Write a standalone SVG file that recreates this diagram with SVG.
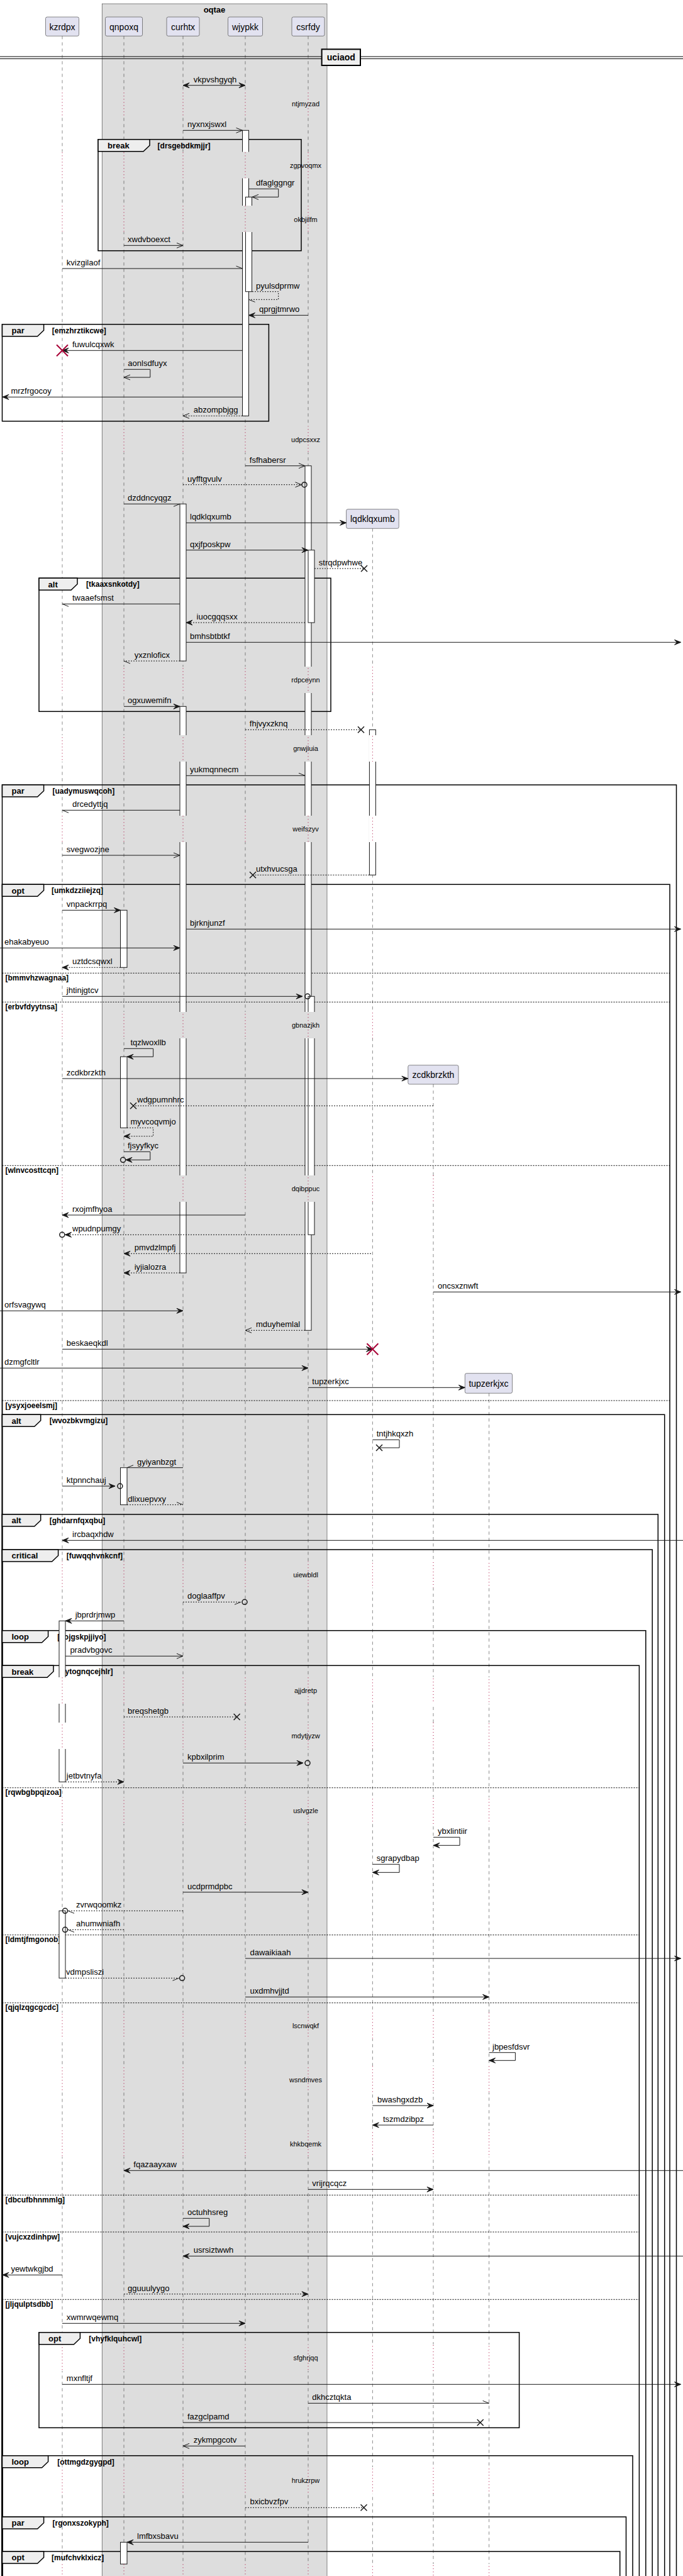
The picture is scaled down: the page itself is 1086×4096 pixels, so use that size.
<svg xmlns="http://www.w3.org/2000/svg" width="1086" height="4096" viewBox="0 0 1086 4096">
<style>
text{font-family:"Liberation Sans",Arial,sans-serif;fill:#000}
.pt{font-size:14px;text-anchor:middle}
.m{font-size:13px}
.dt{font-size:11px;text-anchor:middle}
.tt{font-size:13px;font-weight:bold}
.cd{font-size:12px;font-weight:bold}
.lf{stroke:#181818;stroke-width:0.5;stroke-dasharray:5,5}
.dl{stroke:#A80036;stroke-width:1;stroke-dasharray:1,4}
.s{stroke:#181818;stroke-width:1;fill:none}
.d{stroke:#181818;stroke-width:1;fill:none;stroke-dasharray:2,2}
.fr{fill:none;stroke:#000;stroke-width:1.5}
.tab{fill:#EEEEEE;stroke:#000;stroke-width:1.5}
.sep{stroke:#000;stroke-width:1;stroke-dasharray:2,2}
.act{fill:#fff;stroke:#181818;stroke-width:1}
.pb{fill:#E2E2F0;stroke:#181818;stroke-width:0.5}
.cg{fill:#DDDDDD}
.cw{fill:#fff}
.x{stroke:#181818;stroke-width:1.5;fill:none}
.rx{stroke:#A80036;stroke-width:2;fill:none}
.c{fill:none;stroke:#181818;stroke-width:1.5}
</style>
<defs>
<marker id="f" markerUnits="userSpaceOnUse" viewBox="-12 -6 14 12" refX="0" refY="0" markerWidth="14" markerHeight="12" orient="auto" overflow="visible"><path d="M0,0L-10,-4L-6,0L-10,4Z" fill="#181818" stroke="#181818" stroke-width="1"/></marker>
<marker id="fb" markerUnits="userSpaceOnUse" viewBox="-12 -6 14 12" refX="0" refY="0" markerWidth="14" markerHeight="12" orient="auto-start-reverse" overflow="visible"><path d="M0,0L-10,-4L-6,0L-10,4Z" fill="#181818" stroke="#181818" stroke-width="1"/></marker>
<marker id="o" markerUnits="userSpaceOnUse" viewBox="-12 -6 14 12" refX="0" refY="0" markerWidth="14" markerHeight="12" orient="auto" overflow="visible"><path d="M-10,-4L0,0L-10,4" fill="none" stroke="#181818" stroke-width="1"/></marker>
<marker id="hu" markerUnits="userSpaceOnUse" viewBox="-12 -6 14 12" refX="0" refY="0" markerWidth="14" markerHeight="12" orient="auto" overflow="visible"><path d="M-10,-4L0,0" fill="none" stroke="#181818" stroke-width="1"/></marker>
<marker id="hl" markerUnits="userSpaceOnUse" viewBox="-12 -6 14 12" refX="0" refY="0" markerWidth="14" markerHeight="12" orient="auto" overflow="visible"><path d="M-10,4L0,0" fill="none" stroke="#181818" stroke-width="1"/></marker>
<g id="bands">
<rect x="0" y="143.5" width="1086" height="42"/>
<rect x="0" y="241.5" width="1086" height="42"/>
<rect x="0" y="327" width="1086" height="42"/>
<rect x="0" y="677.5" width="1086" height="42"/>
<rect x="0" y="1060" width="1086" height="42"/>
<rect x="0" y="1169" width="1086" height="42"/>
<rect x="0" y="1297" width="1086" height="42"/>
<rect x="0" y="1609" width="1086" height="42"/>
<rect x="0" y="1869" width="1086" height="42"/>
<rect x="0" y="2482.5" width="1086" height="42"/>
<rect x="0" y="2667" width="1086" height="42"/>
<rect x="0" y="2739" width="1086" height="42"/>
<rect x="0" y="2858" width="1086" height="42"/>
<rect x="0" y="3200" width="1086" height="42"/>
<rect x="0" y="3285" width="1086" height="42"/>
<rect x="0" y="3387.5" width="1086" height="42"/>
<rect x="0" y="3728" width="1086" height="42"/>
<rect x="0" y="3923" width="1086" height="42"/>
<rect x="0" y="4077" width="1086" height="42"/>
</g>
<mask id="nd" maskUnits="userSpaceOnUse" x="0" y="0" width="1086" height="4096"><rect x="0" y="0" width="1086" height="4096" fill="#fff"/><use href="#bands" fill="#000"/></mask>
<mask id="od" maskUnits="userSpaceOnUse" x="0" y="0" width="1086" height="4096"><use href="#bands" fill="#fff"/></mask>
</defs>
<rect x="0" y="0" width="1086" height="4096" fill="#fff"/>

<g id="box-oqtae">
<rect x="162.2" y="6" width="357.8" height="4100" fill="#DDDDDD" stroke="#181818" stroke-width="0.5"/>
<text x="341" y="19.5" class="tt" text-anchor="middle">oqtae</text>
</g>

<g id="lifelines">
<g mask="url(#nd)">
<line class="lf" x1="99" y1="57.3" x2="99" y2="4096"/>
<line class="lf" x1="197" y1="57.3" x2="197" y2="4096"/>
<line class="lf" x1="291" y1="57.3" x2="291" y2="4096"/>
<line class="lf" x1="390" y1="57.3" x2="390" y2="4096"/>
<line class="lf" x1="490" y1="57.3" x2="490" y2="4096"/>
<line class="lf" x1="592.4" y1="840.3" x2="592.4" y2="4096"/>
<line class="lf" x1="689" y1="1724" x2="689" y2="4096"/>
<line class="lf" x1="777.6" y1="2215.3" x2="777.6" y2="4096"/>
</g>
</g>

<g id="participants">
<g id="p-kzrdpx"><rect class="pb" x="72.5" y="27" width="53" height="30.3" rx="2.5"/><text class="pt" x="99" y="47.5">kzrdpx</text></g>
<g id="p-qnpoxq"><rect class="pb" x="167.5" y="27" width="59" height="30.3" rx="2.5"/><text class="pt" x="197" y="47.5">qnpoxq</text></g>
<g id="p-curhtx"><rect class="pb" x="265" y="27" width="52" height="30.3" rx="2.5"/><text class="pt" x="291" y="47.5">curhtx</text></g>
<g id="p-wjypkk"><rect class="pb" x="362.5" y="27" width="55" height="30.3" rx="2.5"/><text class="pt" x="390" y="47.5">wjypkk</text></g>
<g id="p-csrfdy"><rect class="pb" x="464" y="27" width="52" height="30.3" rx="2.5"/><text class="pt" x="490" y="47.5">csrfdy</text></g>
<g id="p-lqdklqxumb"><rect class="pb" x="550.6" y="809.7" width="83.6" height="30.6" rx="2.5"/><text class="pt" x="592.4" y="830">lqdklqxumb</text></g>
<g id="p-zcdkbrzkth"><rect class="pb" x="648.8" y="1693.7" width="80.2" height="30.3" rx="2.5"/><text class="pt" x="688.9" y="1714">zcdkbrzkth</text></g>
<g id="p-tupzerkjxc"><rect class="pb" x="739.3" y="2183.7" width="75.2" height="31.6" rx="2.5"/><text class="pt" x="776.9" y="2204.5">tupzerkjxc</text></g>
</g>

<g id="divider-uciaod">
<line x1="0" y1="90" x2="1086" y2="90" stroke="#000" stroke-width="1"/>
<line x1="0" y1="93.4" x2="1086" y2="93.4" stroke="#000" stroke-width="1"/>
<rect x="511.6" y="78.3" width="61.4" height="25.7" fill="#EEEEEE" stroke="#000" stroke-width="2"/>
<text x="542.3" y="96" font-size="14" font-weight="bold" text-anchor="middle">uciaod</text>
</g>

<g id="frames">
<g id="fr-break1"><rect class="fr" x="156" y="221.7" width="323" height="177"/><polygon class="tab" points="156,221.7 238,221.7 238,231.2 228,240.7 156,240.7"/><text class="tt" x="171" y="236">break</text><text class="cd" x="250.6" y="235.5">[drsgebdkmjjr]</text></g>
<g id="fr-par1"><rect class="fr" x="3.5" y="515.7" width="423.9" height="154"/><polygon class="tab" points="3.5,515.7 69.6,515.7 69.6,525.2 59.6,534.7 3.5,534.7"/><text class="tt" x="18.5" y="530">par</text><text class="cd" x="82.8" y="529.5">[emzhrztikcwe]</text></g>
<g id="fr-alt1"><rect class="fr" x="62" y="919.3" width="464" height="212"/><polygon class="tab" points="62,919.3 123,919.3 123,928.8 113,938.3 62,938.3"/><text class="tt" x="76.6" y="933.6">alt</text><text class="cd" x="137.1" y="933.1">[tkaaxsnkotdy]</text></g>
<g id="fr-par2"><rect class="fr" x="3.5" y="1248" width="1072" height="2900"/><polygon class="tab" points="3.5,1248 69.6,1248 69.6,1257.5 59.6,1267 3.5,1267"/><text class="tt" x="18.5" y="1262.3">par</text><text class="cd" x="83.5" y="1261.8">[uadymuswqcoh]</text></g>
<g id="fr-opt1"><rect class="fr" x="3.5" y="1406.3" width="1061.5" height="2750"/><polygon class="tab" points="3.5,1406.3 69.6,1406.3 69.6,1415.8 59.6,1425.3 3.5,1425.3"/><text class="tt" x="18.5" y="1420.6">opt</text><text class="cd" x="82" y="1420.1">[umkdzziiejzq]</text>
<line class="sep" x1="3.5" y1="1547.3" x2="1065" y2="1547.3"/><text class="cd" x="8.4" y="1559">[bmmvhzwagnaa]</text>
<line class="sep" x1="3.5" y1="1593.3" x2="1065" y2="1593.3"/><text class="cd" x="8.4" y="1605">[erbvfdyytnsa]</text>
<line class="sep" x1="3.5" y1="1853.3" x2="1065" y2="1853.3"/><text class="cd" x="8.4" y="1865">[wlnvcosttcqn]</text>
<line class="sep" x1="3.5" y1="2227" x2="1065" y2="2227"/><text class="cd" x="8.4" y="2238.7">[ysyxjoeelsmj]</text></g>
<g id="fr-alt2"><rect class="fr" x="3.5" y="2249.3" width="1053.2" height="1900"/><polygon class="tab" points="3.5,2249.3 64.7,2249.3 64.7,2258.8 54.7,2268.3 3.5,2268.3"/><text class="tt" x="18.5" y="2263.6">alt</text><text class="cd" x="78.7" y="2263.1">[wvozbkvmgizu]</text></g>
<g id="fr-alt3"><rect class="fr" x="3.5" y="2408" width="1042.8" height="1750"/><polygon class="tab" points="3.5,2408 64.7,2408 64.7,2417.5 54.7,2427 3.5,2427"/><text class="tt" x="18.5" y="2422.3">alt</text><text class="cd" x="78.7" y="2421.8">[ghdarnfqxqbu]</text></g>
<g id="fr-critical"><rect class="fr" x="3.5" y="2464" width="1033.7" height="1700"/><polygon class="tab" points="3.5,2464 92.6,2464 92.6,2473.5 82.6,2483 3.5,2483"/><text class="tt" x="18.5" y="2478.3">critical</text><text class="cd" x="105.8" y="2477.8">[fuwqqhvnkcnf]</text></g>
<g id="fr-loop1"><rect class="fr" x="3.5" y="2592.7" width="1023.3" height="1600"/><polygon class="tab" points="3.5,2592.7 76.6,2592.7 76.6,2602.2 66.6,2611.7 3.5,2611.7"/><text class="tt" x="18.5" y="2607">loop</text><text class="cd" x="91.2" y="2606.5">[yojgskpjjiyo]</text></g>
<g id="fr-break2"><rect class="fr" x="3.5" y="2648.3" width="1012.9" height="1500"/><polygon class="tab" points="3.5,2648.3 85,2648.3 85,2657.8 75,2667.3 3.5,2667.3"/><text class="tt" x="18.5" y="2662.6">break</text><text class="cd" x="99.5" y="2662.1">[ytognqcejhlr]</text>
<line class="sep" x1="3.5" y1="2842.7" x2="1016.4" y2="2842.7"/><text class="cd" x="8.4" y="2854.4">[rqwbgbpqizoa]</text>
<line class="sep" x1="3.5" y1="3076.7" x2="1016.4" y2="3076.7"/><text class="cd" x="8.4" y="3088.4">[ldmtjfmgonob]</text>
<line class="sep" x1="3.5" y1="3184.7" x2="1016.4" y2="3184.7"/><text class="cd" x="8.4" y="3196.4">[qjqlzqgcgcdc]</text>
<line class="sep" x1="3.5" y1="3490.3" x2="1016.4" y2="3490.3"/><text class="cd" x="8.4" y="3502">[dbcufbhnmmlg]</text>
<line class="sep" x1="3.5" y1="3549" x2="1016.4" y2="3549"/><text class="cd" x="8.4" y="3560.7">[vujcxzdinhpw]</text>
<line class="sep" x1="3.5" y1="3656.3" x2="1016.4" y2="3656.3"/><text class="cd" x="8.4" y="3668">[jljqulptsdbb]</text></g>
<g id="fr-opt2"><rect class="fr" x="62" y="3708.7" width="763.6" height="151.6"/><polygon class="tab" points="62,3708.7 127.4,3708.7 127.4,3718.2 117.4,3727.7 62,3727.7"/><text class="tt" x="77" y="3723">opt</text><text class="cd" x="141.3" y="3722.5">[vhyfklquhcwl]</text></g>
<g id="fr-loop2"><rect class="fr" x="3.5" y="3904.7" width="1002.5" height="300"/><polygon class="tab" points="3.5,3904.7 76.6,3904.7 76.6,3914.2 66.6,3923.7 3.5,3923.7"/><text class="tt" x="18.5" y="3919">loop</text><text class="cd" x="91.2" y="3918.5">[ottmgdzgygpd]</text></g>
<g id="fr-par3"><rect class="fr" x="3.5" y="4002" width="992" height="200"/><polygon class="tab" points="3.5,4002 69.6,4002 69.6,4011.5 59.6,4021 3.5,4021"/><text class="tt" x="18.5" y="4016.3">par</text><text class="cd" x="83.5" y="4015.8">[rgonxszokyph]</text></g>
<g id="fr-opt3"><rect class="fr" x="3.5" y="4057" width="982.2" height="100"/><polygon class="tab" points="3.5,4057 69.6,4057 69.6,4066.5 59.6,4076 3.5,4076"/><text class="tt" x="18.5" y="4071.3">opt</text><text class="cd" x="82" y="4070.8">[mufchvklxicz]</text></g>
</g>

<g id="activations">
<rect class="act" x="385.5" y="207.3" width="10" height="454"/>
<rect class="act" x="390.5" y="313.3" width="10" height="150.4"/>
<rect class="act" x="485" y="740.7" width="10" height="1374.6"/>
<rect class="act" x="490" y="874.7" width="10" height="115.3"/>
<rect class="act" x="490" y="1584.3" width="10" height="379"/>
<rect class="act" x="286" y="801.3" width="10" height="249.7"/>
<rect class="act" x="286" y="1123.3" width="10" height="900.7"/>
<rect class="act" x="587.4" y="1160.3" width="10" height="231"/>
<rect class="act" x="191.5" y="1447.3" width="10.5" height="91"/>
<rect class="act" x="191.5" y="1680.3" width="10.5" height="113"/>
<rect class="act" x="191.5" y="2333.7" width="10.5" height="59"/>
<rect class="act" x="191.5" y="4042.3" width="10.5" height="34.7"/>
<rect class="act" x="94" y="2577.3" width="10" height="256"/>
<rect class="act" x="94" y="3038.3" width="10" height="107"/>
</g>
<g id="activation-breaks">
<rect class="cg" x="384.5" y="241.5" width="17.5" height="42"/>
<rect class="cg" x="384.5" y="327" width="17.5" height="42"/>
<rect class="cg" x="484" y="1060" width="17" height="42"/>
<rect class="cg" x="484" y="1169" width="17" height="42"/>
<rect class="cg" x="484" y="1297" width="17" height="42"/>
<rect class="cg" x="484" y="1609" width="17" height="42"/>
<rect class="cg" x="484" y="1869" width="17" height="42"/>
<rect class="cg" x="285" y="1169" width="12" height="42"/>
<rect class="cg" x="285" y="1297" width="12" height="42"/>
<rect class="cg" x="285" y="1609" width="12" height="42"/>
<rect class="cg" x="285" y="1869" width="12" height="42"/>
<rect class="cw" x="586.4" y="1169" width="12" height="42"/>
<rect class="cw" x="586.4" y="1297" width="12" height="42"/>
<rect class="cw" x="93" y="2667" width="12" height="42"/>
<rect class="cw" x="93" y="2739" width="12" height="42"/>
</g>

<g id="delays">
<g mask="url(#od)">
<line class="dl" x1="99" y1="57.3" x2="99" y2="4096"/>
<line class="dl" x1="197" y1="57.3" x2="197" y2="4096"/>
<line class="dl" x1="291" y1="57.3" x2="291" y2="4096"/>
<line class="dl" x1="390" y1="57.3" x2="390" y2="4096"/>
<line class="dl" x1="490" y1="57.3" x2="490" y2="4096"/>
<line class="dl" x1="592.4" y1="840.3" x2="592.4" y2="4096"/>
<line class="dl" x1="689" y1="1724" x2="689" y2="4096"/>
<line class="dl" x1="777.6" y1="2215.3" x2="777.6" y2="4096"/>
</g>
<text class="dt" x="486" y="169">ntjmyzad</text>
<text class="dt" x="486" y="267">zgpvoqmx</text>
<text class="dt" x="486" y="352.7">okbjilfm</text>
<text class="dt" x="486" y="703">udpcsxxz</text>
<text class="dt" x="486" y="1085.3">rdpceynn</text>
<text class="dt" x="486" y="1194.3">gnwjiuia</text>
<text class="dt" x="486" y="1322.3">weifszyv</text>
<text class="dt" x="486" y="1634.3">gbnazjkh</text>
<text class="dt" x="486" y="1894.3">dqibppuc</text>
<text class="dt" x="486" y="2508">uiewbldl</text>
<text class="dt" x="486" y="2692.3">ajjdretp</text>
<text class="dt" x="486" y="2764.3">mdytjyzw</text>
<text class="dt" x="486" y="2883.3">uslvgzle</text>
<text class="dt" x="486" y="3225.3">lscnwqkf</text>
<text class="dt" x="486" y="3310.7">wsndmves</text>
<text class="dt" x="486" y="3413">khkbqemk</text>
<text class="dt" x="486" y="3753.3">sfghrjqq</text>
<text class="dt" x="486" y="3948.3">hrukzrpw</text>
</g>

<g id="connectors">
<line class="s" x1="291" y1="135.7" x2="390" y2="135.7" marker-start="url(#fb)" marker-end="url(#fb)"/><text class="m" x="307.7" y="130.7">vkpvshgyqh</text>
<line class="s" x1="291" y1="207.3" x2="385.5" y2="207.3" marker-end="url(#o)"/><text class="m" x="298" y="202.3">nyxnxjswxl</text>
<path class="s" d="M395.5,300.3H442.7V313.3H401" marker-end="url(#o)"/><text class="m" x="407" y="295.3">dfaglggngr</text>
<line class="s" x1="197" y1="390.3" x2="291" y2="390.3" marker-end="url(#o)"/><text class="m" x="203" y="385.3">xwdvboexct</text>
<line class="s" x1="99" y1="427" x2="385.5" y2="427" marker-end="url(#hu)"/><text class="m" x="105.8" y="422">kvizgilaof</text>
<path class="d" d="M401,463.7H442.7V476.3H395.5" marker-end="url(#hu)"/><text class="m" x="407" y="458.7">pyulsdprmw</text>
<line class="s" x1="490" y1="501.3" x2="395.5" y2="501.3" marker-end="url(#f)"/><text class="m" x="412" y="496.3">qprgjtmrwo</text>
<line class="s" x1="385.5" y1="557.3" x2="99" y2="557.3" marker-end="url(#f)"/><path class="rx" d="M90,548.3L108,566.3M108,548.3L90,566.3"/><text class="m" x="115" y="552.3">fuwulcqxwk</text>
<path class="s" d="M197,587.3H238.8V600H197" marker-end="url(#o)"/><text class="m" x="203.3" y="582.3">aonlsdfuyx</text>
<line class="s" x1="385.5" y1="631.3" x2="4" y2="631.3" marker-end="url(#f)"/><text class="m" x="17.4" y="626.3">mrzfrgocoy</text>
<line class="d" x1="385.5" y1="661.3" x2="291" y2="661.3" marker-end="url(#o)"/><text class="m" x="307.7" y="656.3">abzompbjgg</text>
<line class="s" x1="390" y1="740.7" x2="485" y2="740.7" marker-end="url(#o)"/><text class="m" x="396.8" y="735.7">fsfhabersr</text>
<line class="d" x1="291" y1="770.7" x2="479.5" y2="770.7" marker-end="url(#o)"/><circle class="c" cx="484" cy="770.7" r="4"/><text class="m" x="298" y="765.7">uyfftgvulv</text>
<line class="s" x1="197" y1="801.3" x2="286" y2="801.3" marker-end="url(#hl)"/><text class="m" x="203" y="796.3">dzddncyqgz</text>
<line class="s" x1="296" y1="831.3" x2="550.6" y2="831.3" marker-end="url(#f)"/><text class="m" x="302" y="826.3">lqdklqxumb</text>
<line class="s" x1="296" y1="874.7" x2="490" y2="874.7" marker-end="url(#f)"/><text class="m" x="302" y="869.7">qxjfposkpw</text>
<line class="d" x1="500" y1="904" x2="579" y2="904"/><path class="x" d="M574,899L584,909M584,899L574,909"/><text class="m" x="506.8" y="899">strqdpwhwe</text>
<line class="s" x1="286" y1="960.3" x2="99" y2="960.3" marker-end="url(#hu)"/><text class="m" x="115" y="955.3">twaaefsmst</text>
<line class="d" x1="485" y1="990" x2="296" y2="990" marker-end="url(#f)"/><text class="m" x="312.6" y="985">iuocgqqsxx</text>
<line class="s" x1="296" y1="1021.3" x2="1082.5" y2="1021.3" marker-end="url(#f)"/><text class="m" x="302" y="1016.3">bmhsbtbtkf</text>
<line class="d" x1="286" y1="1051" x2="197" y2="1051" marker-end="url(#hu)"/><text class="m" x="213.7" y="1046">yxznloficx</text>
<line class="s" x1="197" y1="1123.3" x2="286" y2="1123.3" marker-end="url(#f)"/><text class="m" x="203" y="1118.3">ogxuwemifn</text>
<line class="d" x1="390" y1="1160.3" x2="574" y2="1160.3"/><path class="x" d="M569,1155.3L579,1165.3M579,1155.3L569,1165.3"/><text class="m" x="396.8" y="1155.3">fhjvyxzknq</text>
<line class="s" x1="296" y1="1233.3" x2="485" y2="1233.3" marker-end="url(#hu)"/><text class="m" x="302" y="1228.3">yukmqnnecm</text>
<line class="s" x1="286" y1="1288.3" x2="99" y2="1288.3" marker-end="url(#hu)"/><text class="m" x="115" y="1283.3">drcedyttjq</text>
<line class="s" x1="99" y1="1360" x2="286" y2="1360" marker-end="url(#o)"/><text class="m" x="105.8" y="1355">svegwozjne</text>
<line class="d" x1="587.4" y1="1391.3" x2="402" y2="1391.3"/><path class="x" d="M397,1386.3L407,1396.3M407,1386.3L397,1396.3"/><text class="m" x="407" y="1386.3">utxhvucsga</text>
<line class="s" x1="99" y1="1447.3" x2="191.5" y2="1447.3" marker-end="url(#f)"/><text class="m" x="105.8" y="1442.3">vnpackrrpq</text>
<line class="s" x1="296" y1="1477.3" x2="1082.5" y2="1477.3" marker-end="url(#f)"/><text class="m" x="302" y="1472.3">bjrknjunzf</text>
<line class="s" x1="0" y1="1507.3" x2="286" y2="1507.3" marker-end="url(#f)"/><text class="m" x="7" y="1502.3">ehakabyeuo</text>
<line class="d" x1="191.5" y1="1538.3" x2="99" y2="1538.3" marker-end="url(#f)"/><text class="m" x="115" y="1533.3">uztdcsqwxl</text>
<line class="s" x1="99" y1="1584.3" x2="481" y2="1584.3" marker-end="url(#f)"/><circle class="c" cx="489" cy="1584.3" r="4"/><text class="m" x="105.8" y="1579.3">jhtinjgtcv</text>
<path class="s" d="M197,1667.3H243.6V1680.3H202" marker-end="url(#f)"/><text class="m" x="207.4" y="1662.3">tqzlwoxllb</text>
<line class="s" x1="99" y1="1715" x2="648.8" y2="1715" marker-end="url(#f)"/><text class="m" x="105.8" y="1710">zcdkbrzkth</text>
<line class="d" x1="689" y1="1758.3" x2="212" y2="1758.3"/><path class="x" d="M207,1753.3L217,1763.3M217,1753.3L207,1763.3"/><text class="m" x="218" y="1753.3">wdgpumnhrc</text>
<path class="d" d="M202,1793.3H243.6V1806.7H197" marker-end="url(#f)"/><text class="m" x="207.4" y="1788.3">myvcoqvmjo</text>
<path class="s" d="M197,1831.3H238.8V1844.3H200" marker-end="url(#f)"/><circle class="c" cx="195.6" cy="1844.3" r="4"/><text class="m" x="203" y="1826.3">fjsyyfkyc</text>
<line class="s" x1="390" y1="1932" x2="99" y2="1932" marker-end="url(#f)"/><text class="m" x="115" y="1927">rxojmfhyoa</text>
<line class="d" x1="485" y1="1963.3" x2="103.5" y2="1963.3" marker-end="url(#f)"/><circle class="c" cx="98.8" cy="1963.3" r="4"/><text class="m" x="115" y="1958.3">wpudnpumgy</text>
<line class="d" x1="590" y1="1993.3" x2="197" y2="1993.3" marker-end="url(#f)"/><text class="m" x="213.7" y="1988.3">pmvdzlmpfj</text>
<line class="d" x1="286" y1="2024" x2="197" y2="2024" marker-end="url(#f)"/><text class="m" x="213.7" y="2019">iyjialozra</text>
<line class="s" x1="689" y1="2054.3" x2="1082.5" y2="2054.3" marker-end="url(#f)"/><text class="m" x="696" y="2049.3">oncsxznwft</text>
<line class="s" x1="0" y1="2084.3" x2="291" y2="2084.3" marker-end="url(#f)"/><text class="m" x="7" y="2079.3">orfsvagywq</text>
<line class="d" x1="485" y1="2115.3" x2="390" y2="2115.3" marker-end="url(#o)"/><text class="m" x="407" y="2110.3">mduyhemlal</text>
<line class="s" x1="99" y1="2145.3" x2="592.4" y2="2145.3" marker-end="url(#f)"/><path class="rx" d="M583.4,2136.3L601.4,2154.3M601.4,2136.3L583.4,2154.3"/><text class="m" x="105.8" y="2140.3">beskaeqkdl</text>
<line class="s" x1="0" y1="2175.3" x2="490" y2="2175.3" marker-end="url(#f)"/><text class="m" x="7" y="2170.3">dzmgfcltlr</text>
<line class="s" x1="490" y1="2206.3" x2="739.3" y2="2206.3" marker-end="url(#f)"/><text class="m" x="496.3" y="2201.3">tupzerkjxc</text>
<path class="s" d="M592.4,2289.3H635V2302H603"/><path class="x" d="M598,2297L608,2307M608,2297L598,2307"/><text class="m" x="598.7" y="2284.3">tntjhkqxzh</text>
<line class="s" x1="291" y1="2333.7" x2="202" y2="2333.7" marker-end="url(#hl)"/><text class="m" x="218" y="2328.7">gyiyanbzgt</text>
<line class="s" x1="99" y1="2363" x2="183" y2="2363" marker-end="url(#f)"/><circle class="c" cx="190.8" cy="2363" r="4"/><text class="m" x="105.8" y="2358">ktpnnchauj</text>
<line class="d" x1="202" y1="2392.7" x2="291" y2="2392.7" marker-end="url(#hu)"/><text class="m" x="203.3" y="2387.7">dlixuepvxy</text>
<line class="s" x1="1086" y1="2449.3" x2="99" y2="2449.3" marker-end="url(#f)"/><text class="m" x="115" y="2444.3">ircbaqxhdw</text>
<line class="d" x1="291" y1="2547.3" x2="383" y2="2547.3" marker-end="url(#hl)"/><circle class="c" cx="389" cy="2547.3" r="4"/><text class="m" x="298" y="2542.3">doglaaffpv</text>
<line class="s" x1="197" y1="2577.3" x2="104" y2="2577.3" marker-end="url(#f)"/><text class="m" x="119.7" y="2572.3">jbprdrjmwp</text>
<line class="s" x1="104" y1="2633.3" x2="291" y2="2633.3" marker-end="url(#o)"/><text class="m" x="111.4" y="2628.3">pradvbgovc</text>
<line class="d" x1="197" y1="2730" x2="376.6" y2="2730"/><path class="x" d="M371.6,2725L381.6,2735M381.6,2725L371.6,2735"/><text class="m" x="203" y="2725">breqshetgb</text>
<line class="s" x1="291" y1="2803.3" x2="482" y2="2803.3" marker-end="url(#f)"/><circle class="c" cx="489" cy="2803.3" r="4"/><text class="m" x="298" y="2798.3">kpbxilprim</text>
<line class="d" x1="104" y1="2833.3" x2="197" y2="2833.3" marker-end="url(#f)"/><text class="m" x="105.8" y="2828.3">jetbvtnyfa</text>
<path class="s" d="M689,2921.3H731V2934.3H689" marker-end="url(#f)"/><text class="m" x="696" y="2916.3">ybxlintiir</text>
<path class="s" d="M592.4,2964.3H635V2977.3H592.4" marker-end="url(#f)"/><text class="m" x="598.7" y="2959.3">sgrapydbap</text>
<line class="s" x1="291" y1="3008.7" x2="490" y2="3008.7" marker-end="url(#f)"/><text class="m" x="298" y="3003.7">ucdprmdpbc</text>
<line class="d" x1="291" y1="3038.3" x2="108" y2="3038.3" marker-end="url(#hu)"/><circle class="c" cx="103.5" cy="3038.3" r="4"/><text class="m" x="121.1" y="3033.3">zvrwqoomkz</text>
<line class="d" x1="197" y1="3068.3" x2="108" y2="3068.3" marker-end="url(#hu)"/><circle class="c" cx="103.5" cy="3068.3" r="4"/><text class="m" x="121.1" y="3063.3">ahumwniafh</text>
<line class="s" x1="390" y1="3114" x2="1082.5" y2="3114" marker-end="url(#f)"/><text class="m" x="397.5" y="3109">dawaikiaah</text>
<line class="d" x1="104" y1="3145.3" x2="284.5" y2="3145.3" marker-end="url(#hl)"/><circle class="c" cx="289.6" cy="3145.3" r="4"/><text class="m" x="105.1" y="3140.3">vdmpsliszi</text>
<line class="s" x1="390" y1="3175.3" x2="777.6" y2="3175.3" marker-end="url(#f)"/><text class="m" x="397.5" y="3170.3">uxdmhvjjtd</text>
<path class="s" d="M777.6,3263.7H819.4V3276.3H777.6" marker-end="url(#f)"/><text class="m" x="783" y="3258.7">jbpesfdsvr</text>
<line class="s" x1="592.4" y1="3348" x2="689" y2="3348" marker-end="url(#f)"/><text class="m" x="600" y="3343">bwashgxdzb</text>
<line class="s" x1="689" y1="3379" x2="592.4" y2="3379" marker-end="url(#f)"/><text class="m" x="609" y="3374">tszmdzibpz</text>
<line class="s" x1="1086" y1="3451.3" x2="197" y2="3451.3" marker-end="url(#f)"/><text class="m" x="212.3" y="3446.3">fqazaayxaw</text>
<line class="s" x1="490" y1="3481.3" x2="689" y2="3481.3" marker-end="url(#f)"/><text class="m" x="496.3" y="3476.3">vrijrqcqcz</text>
<path class="s" d="M291,3527.3H332.7V3540H291" marker-end="url(#f)"/><text class="m" x="298" y="3522.3">octuhhsreg</text>
<line class="s" x1="1086" y1="3587.3" x2="291" y2="3587.3" marker-end="url(#f)"/><text class="m" x="307.7" y="3582.3">usrsiztwwh</text>
<line class="s" x1="99" y1="3617.3" x2="4" y2="3617.3" marker-end="url(#f)"/><text class="m" x="17.4" y="3612.3">yewtwkgjbd</text>
<line class="d" x1="197" y1="3647.7" x2="490" y2="3647.7" marker-end="url(#f)"/><text class="m" x="203" y="3642.7">gguuulyygo</text>
<line class="s" x1="99" y1="3694.3" x2="390" y2="3694.3" marker-end="url(#f)"/><text class="m" x="105.8" y="3689.3">xwmrwqewmq</text>
<line class="s" x1="99" y1="3791.3" x2="1082.5" y2="3791.3" marker-end="url(#f)"/><text class="m" x="105.8" y="3786.3">mxnfltjf</text>
<line class="s" x1="490" y1="3821.3" x2="777.6" y2="3821.3" marker-end="url(#hu)"/><text class="m" x="496.3" y="3816.3">dkhcztqkta</text>
<line class="s" x1="291" y1="3852" x2="763.7" y2="3852"/><path class="x" d="M758.7,3847L768.7,3857M768.7,3847L758.7,3857"/><text class="m" x="298" y="3847">fazgclpamd</text>
<line class="s" x1="390" y1="3889.3" x2="291" y2="3889.3" marker-end="url(#o)"/><text class="m" x="307.7" y="3884.3">zykmpgcotv</text>
<line class="d" x1="390" y1="3987.3" x2="578.5" y2="3987.3"/><path class="x" d="M573.5,3982.3L583.5,3992.3M583.5,3982.3L573.5,3992.3"/><text class="m" x="397.5" y="3982.3">bxicbvzfpv</text>
<line class="s" x1="490" y1="4042.3" x2="202" y2="4042.3" marker-end="url(#f)"/><text class="m" x="218" y="4037.3">lmfbxsbavu</text>
</g>
</svg>
